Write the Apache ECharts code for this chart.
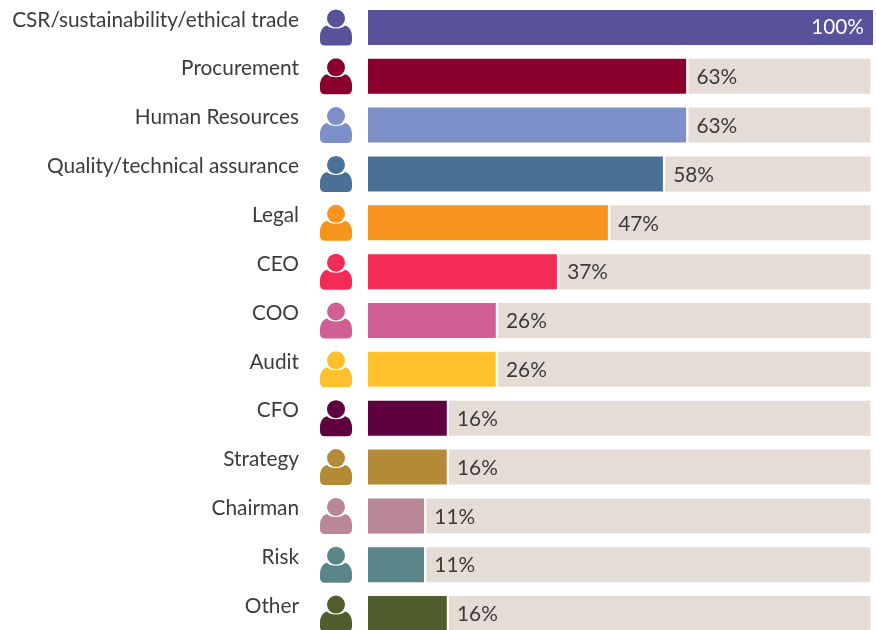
<!DOCTYPE html>
<html><head><meta charset="utf-8">
<style>html,body{margin:0;padding:0;background:#fff}#c{width:876px;height:630px}</style>
<script src="https://cdn.jsdelivr.net/npm/echarts@6/dist/echarts.min.js"></script>
</head><body><div id="c"></div>
<script>
const categories = ['CSR/sustainability/ethical trade','Procurement','Human Resources','Quality/technical assurance','Legal','CEO','COO','Audit','CFO','Strategy','Chairman','Risk','Other'];
const values = [100,63,63,58.4,47.5,37.4,25.3,25.3,15.6,15.6,11.1,11.1,15.6];
const valueLabels = ['100%','63%','63%','58%','47%','37%','26%','26%','16%','16%','11%','11%','16%'];
const colors = ['#58529b','#8a002c','#7d8fc9','#4a7096','#f7941d','#f42c55','#d06094','#ffc02e','#5f003f','#b38a36','#b98796','#5a868a','#505e2c'];
const FONT = 'Lato';
const FS = 20.8;
const TRACK_END = 99.5, GAP = 0.45;
const PERSON = 'path://M7 9A9 9 0 1 1 25 9A9 9 0 1 1 7 9ZM7 16C10 20 22 20 25 16C29 17 32 21 32 27L32 31Q32 36 27 36L5 36Q0 36 0 31L0 27C0 21 3 17 7 16Z';
const chart = echarts.init(document.getElementById('c'), null, {renderer:'canvas'});
chart.setOption({
  animation:false,
  grid:{left:368,top:3,width:505,height:635,containLabel:false,outerBoundsMode:'none'},
  xAxis:{type:'value',min:0,max:100,show:false},
  yAxis:{type:'category',inverse:true,data:categories,axisLine:{show:false},axisTick:{show:false},splitLine:{show:false},
    axisLabel:{color:'#3d3a3a',fontFamily:FONT,fontSize:FS,margin:69,verticalAlign:'bottom',lineHeight:15,interval:0}},
  series:[
    {type:'bar',stack:'a',barWidth:35,silent:true,
     data:values.map((v,i)=>({value:v,itemStyle:{color:colors[i]},
       label:{show:v===100,position:'insideRight',distance:9,color:'#fff',fontFamily:FONT,fontSize:FS,formatter:()=>valueLabels[i]}}))},
    {type:'bar',stack:'a',barWidth:35,silent:true,itemStyle:{color:'transparent'},
     data:values.map(v=>v<100?GAP:0)},
    {type:'bar',stack:'a',barWidth:35,silent:true,itemStyle:{color:'#e5dcd6'},
     data:values.map((v,i)=>({value:v<100?TRACK_END-v-GAP:0,
       label:{show:v<100,position:'insideLeft',distance:8,offset:[0,1],color:'#3d3a3a',fontFamily:FONT,fontSize:FS,formatter:()=>valueLabels[i]}}))},
    {type:'scatter',silent:true,symbol:PERSON,symbolSize:[32,36],symbolOffset:[-32,0],clip:false,
     data:categories.map((c,i)=>({value:[0,c],itemStyle:{color:colors[i],opacity:1}}))}
  ]
});
</script></body></html>
